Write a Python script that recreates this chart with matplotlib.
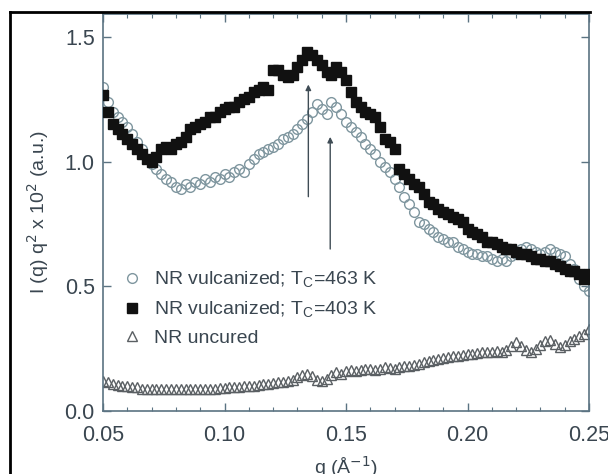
import numpy as np
import matplotlib.pyplot as plt
from matplotlib.lines import Line2D
from matplotlib.ticker import MultipleLocator

plt.rcParams['font.family'] = ['Liberation Sans', 'DejaVu Sans']

# q grid, one point every 0.002 A^-1
q = np.round(np.arange(0.050, 0.2501, 0.002), 3)

# NR vulcanized, Tc = 463 K (open circles)
i_463 = [1.30, 1.24, 1.20, 1.18, 1.16, 1.14, 1.11, 1.08, 1.05, 1.01,
         0.99, 0.97, 0.95, 0.93, 0.92, 0.90, 0.89, 0.91, 0.90, 0.92,
         0.91, 0.93, 0.92, 0.94, 0.93, 0.95, 0.94, 0.96, 0.97, 0.96,
         0.99, 1.01, 1.03, 1.04, 1.05, 1.06, 1.07, 1.09, 1.10, 1.11,
         1.13, 1.15, 1.17, 1.20, 1.23, 1.21, 1.19, 1.24, 1.22, 1.19,
         1.16, 1.14, 1.12, 1.10, 1.07, 1.05, 1.03, 1.00, 0.98, 0.96,
         0.93, 0.90, 0.86, 0.83, 0.80, 0.76, 0.75, 0.73, 0.72, 0.70,
         0.69, 0.68, 0.68, 0.66, 0.65, 0.64, 0.63, 0.63, 0.62, 0.62,
         0.61, 0.60, 0.61, 0.60, 0.62, 0.63, 0.65, 0.66, 0.65, 0.64,
         0.63, 0.64, 0.65, 0.64, 0.63, 0.62, 0.59, 0.57, 0.53, 0.50,
         0.48]

# NR vulcanized, Tc = 403 K (filled squares)
i_403 = [1.27, 1.20, 1.15, 1.13, 1.11, 1.09, 1.07, 1.05, 1.03, 1.01,
         1.00, 1.02, 1.05, 1.06, 1.05, 1.07, 1.08, 1.10, 1.13, 1.14,
         1.15, 1.16, 1.18, 1.18, 1.20, 1.21, 1.22, 1.22, 1.24, 1.25,
         1.26, 1.28, 1.29, 1.30, 1.29, 1.37, 1.37, 1.35, 1.34, 1.35,
         1.38, 1.41, 1.44, 1.43, 1.41, 1.39, 1.36, 1.35, 1.38, 1.36,
         1.33, 1.28, 1.24, 1.22, 1.20, 1.19, 1.18, 1.14, 1.09, 1.08,
         1.05, 0.97, 0.95, 0.93, 0.91, 0.90, 0.87, 0.84, 0.83, 0.81,
         0.80, 0.79, 0.78, 0.77, 0.76, 0.73, 0.72, 0.71, 0.70, 0.68,
         0.68, 0.67, 0.66, 0.65, 0.65, 0.64, 0.63, 0.63, 0.62, 0.61,
         0.61, 0.60, 0.60, 0.59, 0.58, 0.57, 0.56, 0.56, 0.55, 0.53,
         0.55]

# NR uncured (open triangles)
i_unc = [0.120, 0.115, 0.110, 0.105, 0.100, 0.100, 0.095, 0.095, 0.090, 0.090,
         0.090, 0.090, 0.090, 0.090, 0.088, 0.088, 0.087, 0.088, 0.087, 0.088,
         0.089, 0.090, 0.090, 0.090, 0.092, 0.093, 0.095, 0.096, 0.098, 0.100,
         0.100, 0.102, 0.105, 0.107, 0.110, 0.112, 0.115, 0.118, 0.120, 0.125,
         0.135, 0.145, 0.150, 0.140, 0.125, 0.120, 0.130, 0.145, 0.155, 0.150,
         0.160, 0.165, 0.160, 0.165, 0.170, 0.170, 0.165, 0.170, 0.175, 0.172,
         0.170, 0.178, 0.180, 0.182, 0.185, 0.190, 0.195, 0.200, 0.205, 0.210,
         0.212, 0.215, 0.220, 0.222, 0.225, 0.228, 0.230, 0.232, 0.235, 0.236,
         0.238, 0.240, 0.238, 0.245, 0.260, 0.275, 0.260, 0.245, 0.235, 0.250,
         0.265, 0.280, 0.285, 0.270, 0.255, 0.265, 0.280, 0.290, 0.300, 0.310,
         0.330]

# peak arrows: (q, tail, head)
arrows = [(0.1345, 0.86, 1.31), (0.1435, 0.65, 1.10)]

axcol = '#5b7382'
txtcol = '#3a4650'

fig = plt.figure(figsize=(6.08, 4.74), dpi=100)
ax = fig.add_axes([0.1694, 0.1329, 0.7994, 0.8386])

ax.plot(q, i_unc, ls='none', marker='^', ms=6.5, mfc='none', mec='#5a5f63',
        mew=1.0, label='NR uncured', zorder=2)
ax.plot(q, i_463, ls='none', marker='o', ms=7, mfc='none', mec='#7f969f',
        mew=1.0, label='NR vulcanized; T$_\\mathregular{C}$=463 K', zorder=2)
ax.plot(q, i_403, ls='none', marker='s', ms=6.5, mfc='#111111', mec='#111111',
        label='NR vulcanized; T$_\\mathregular{C}$=403 K', zorder=3)

for x, y0, y1 in arrows:
    ax.annotate('', xy=(x, y1), xytext=(x, y0),
                arrowprops=dict(arrowstyle='-|>', color='#3f4c55', lw=1.0,
                                mutation_scale=8, shrinkA=0, shrinkB=0))

ax.set_xlim(0.05, 0.25)
ax.set_ylim(0.0, 1.595)
ax.xaxis.set_minor_locator(MultipleLocator(0.01))
ax.set_xticks([0.05, 0.10, 0.15, 0.20, 0.25])
ax.set_xticklabels(['0.05', '0.10', '0.15', '0.20', '0.25'])
ax.set_yticks([0.0, 0.5, 1.0, 1.5])
ax.set_yticklabels(['0.0', '0.5', '1.0', '1.5'])
ax.tick_params(which='both', direction='in', top=True, right=True,
               color=axcol, labelcolor=txtcol, labelsize=15.5)
ax.tick_params(which='major', length=6, width=1)
ax.tick_params(which='minor', length=3, width=0.8)
ax.tick_params(axis='x', pad=10)
ax.tick_params(axis='y', pad=6)
for s in ax.spines.values():
    s.set_color(axcol)
    s.set_linewidth(1.2)

ax.set_xlabel('q (Å$^{-1}$)', fontsize=14, color=txtcol, labelpad=6)
ax.set_ylabel('I (q) q$^2$ x 10$^2$ (a.u.)', fontsize=14, color=txtcol, labelpad=10)

h, l = ax.get_legend_handles_labels()
order = [1, 2, 0]
ax.legend([h[i] for i in order], [l[i] for i in order], loc='upper left',
          bbox_to_anchor=(0.0, 0.40), frameon=False, fontsize=14,
          labelcolor=txtcol, handletextpad=0.5, labelspacing=0.5,
          handlelength=1.2)

# black frame of the scanned figure
fig.add_artist(Line2D([10 / 608, 590 / 608], [1 - 12 / 474, 1 - 12 / 474],
                      color='black', lw=2, transform=fig.transFigure))
fig.add_artist(Line2D([10 / 608, 10 / 608], [0, 1 - 12 / 474],
                      color='black', lw=2, transform=fig.transFigure))

fig.savefig('out.png', dpi=100)
